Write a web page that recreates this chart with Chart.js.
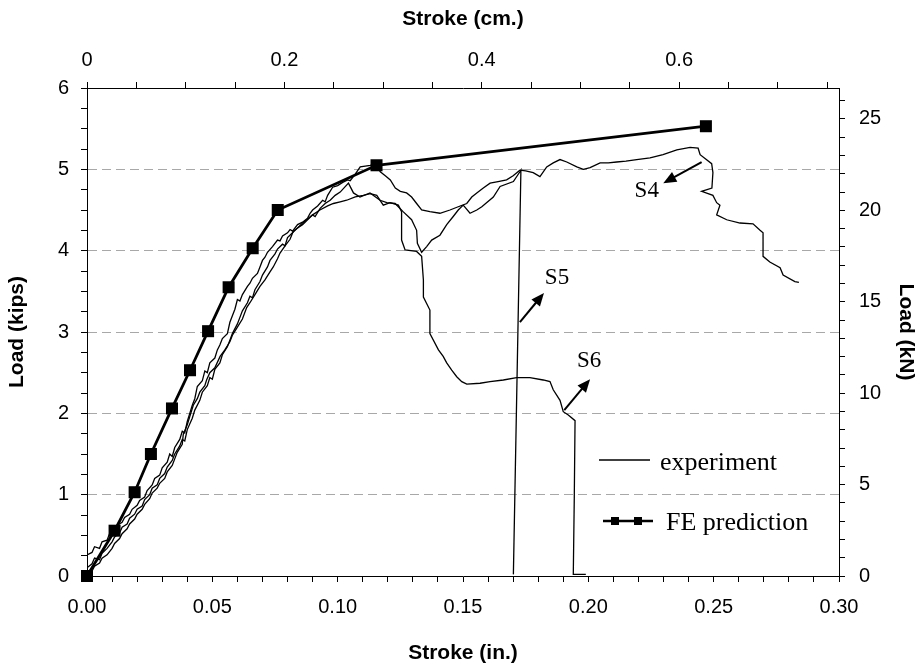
<!DOCTYPE html>
<html>
<head>
<meta charset="utf-8">
<script src="https://cdn.jsdelivr.net/npm/chart.js@4.4.1/dist/chart.umd.min.js"></script>
<style>
  body { margin: 0; background: #fff; }
  canvas { display: block; }
</style>
</head>
<body>
<canvas id="loadChart" width="921" height="667"></canvas>
<script>
// FE prediction: stroke (in.) and load (kips)
const feStroke = [0, 0.011, 0.019, 0.0255, 0.0339, 0.0411, 0.0483, 0.0565, 0.0661, 0.0761, 0.1155, 0.2469];
const feLoad = [0, 0.557, 1.03, 1.50, 2.06, 2.53, 3.01, 3.55, 4.03, 4.50, 5.05, 5.53];

// measured traces, [stroke (in.), load (kips)]
const s4 = [
  [0, 0.26], [0.002, 0.29], [0.003, 0.36], [0.005, 0.34], [0.006, 0.42], [0.008, 0.44], [0.009, 0.52],
  [0.011, 0.55], [0.012, 0.62], [0.014, 0.66], [0.015, 0.72], [0.017, 0.76], [0.018, 0.82], [0.020, 0.87],
  [0.021, 0.93], [0.023, 0.97], [0.024, 1.05], [0.026, 1.12], [0.027, 1.20], [0.029, 1.24], [0.030, 1.33],
  [0.032, 1.40], [0.033, 1.50], [0.034, 1.47], [0.035, 1.58], [0.037, 1.68], [0.038, 1.78], [0.039, 1.76],
  [0.040, 1.90], [0.041, 2.00], [0.042, 2.10], [0.043, 2.18], [0.044, 2.33], [0.046, 2.40], [0.047, 2.52],
  [0.048, 2.50], [0.049, 2.62], [0.051, 2.68], [0.052, 2.78], [0.053, 2.84], [0.054, 2.92], [0.056, 2.98],
  [0.057, 3.12], [0.058, 3.20], [0.059, 3.28], [0.060, 3.40], [0.061, 3.38], [0.062, 3.46], [0.064, 3.56],
  [0.065, 3.60], [0.066, 3.66], [0.068, 3.72], [0.069, 3.80], [0.070, 3.88], [0.071, 3.92], [0.072, 3.98],
  [0.074, 4.05], [0.076, 4.13], [0.077, 4.12], [0.078, 4.18], [0.080, 4.22], [0.081, 4.26], [0.082, 4.24],
  [0.084, 4.32], [0.086, 4.35], [0.088, 4.40], [0.089, 4.46], [0.090, 4.50], [0.092, 4.55], [0.094, 4.62],
  [0.095, 4.60], [0.096, 4.68], [0.098, 4.78], [0.100, 4.80], [0.102, 4.84], [0.104, 4.87], [0.105, 4.86],
  [0.107, 4.94], [0.109, 5.03], [0.111, 5.04], [0.113, 5.05], [0.115, 5.07], [0.117, 4.97], [0.119, 4.92],
  [0.121, 4.87], [0.123, 4.77], [0.125, 4.73], [0.1275, 4.71], [0.1295, 4.66], [0.1315, 4.58], [0.1335, 4.50],
  [0.1368, 4.48], [0.1408, 4.46], [0.1448, 4.50], [0.1481, 4.54], [0.1515, 4.58], [0.1535, 4.66], [0.1555, 4.71],
  [0.1581, 4.77], [0.1608, 4.83], [0.164, 4.85], [0.1674, 4.87], [0.170, 4.92], [0.1727, 4.99], [0.175, 4.98],
  [0.178, 4.96], [0.1807, 4.91], [0.1834, 5.03], [0.186, 5.08], [0.1887, 5.12], [0.1914, 5.09], [0.1954, 5.03],
  [0.198, 5.00], [0.2007, 5.02], [0.2047, 5.08], [0.208, 5.08], [0.2113, 5.09], [0.215, 5.10], [0.2193, 5.12],
  [0.2246, 5.14], [0.2298, 5.18], [0.2353, 5.24], [0.2406, 5.27], [0.2438, 5.26], [0.2446, 5.18], [0.2492, 5.07],
  [0.2497, 4.96], [0.2493, 4.77], [0.2452, 4.73], [0.2497, 4.68], [0.2512, 4.59], [0.2525, 4.56], [0.2512, 4.44],
  [0.2552, 4.38], [0.2605, 4.34], [0.2657, 4.33], [0.2685, 4.25], [0.2697, 4.22], [0.2697, 3.93], [0.2724, 3.86],
  [0.2765, 3.79], [0.2777, 3.70], [0.2824, 3.62], [0.284, 3.61]
];
const s5 = [
  [0, 0.10], [0.002, 0.15], [0.003, 0.22], [0.005, 0.20], [0.006, 0.28], [0.008, 0.34], [0.010, 0.42],
  [0.011, 0.48], [0.013, 0.53], [0.014, 0.60], [0.016, 0.64], [0.017, 0.71], [0.019, 0.76], [0.020, 0.82],
  [0.022, 0.86], [0.023, 0.94], [0.025, 1.00], [0.026, 1.08], [0.028, 1.12], [0.029, 1.20], [0.031, 1.26],
  [0.032, 1.34], [0.034, 1.42], [0.035, 1.50], [0.037, 1.60], [0.038, 1.68], [0.039, 1.66], [0.040, 1.80],
  [0.042, 1.94], [0.043, 2.04], [0.045, 2.16], [0.046, 2.26], [0.048, 2.34], [0.049, 2.44], [0.050, 2.42],
  [0.051, 2.54], [0.053, 2.62], [0.054, 2.72], [0.056, 2.82], [0.057, 2.90], [0.058, 2.98], [0.060, 3.10],
  [0.061, 3.18], [0.062, 3.26], [0.064, 3.36], [0.065, 3.44], [0.066, 3.42], [0.067, 3.52], [0.069, 3.62],
  [0.070, 3.70], [0.072, 3.80], [0.073, 3.88], [0.075, 3.96], [0.076, 4.02], [0.078, 4.08], [0.079, 4.06],
  [0.080, 4.16], [0.082, 4.22], [0.084, 4.28], [0.086, 4.32], [0.088, 4.38], [0.090, 4.44], [0.091, 4.42],
  [0.093, 4.52], [0.095, 4.58], [0.097, 4.62], [0.099, 4.68], [0.101, 4.72], [0.1043, 4.83], [0.1063, 4.71],
  [0.1089, 4.66], [0.1129, 4.71], [0.1169, 4.62], [0.1196, 4.59], [0.1229, 4.58], [0.1261, 4.48], [0.1295, 4.38],
  [0.1315, 4.25], [0.1318, 4.09], [0.1335, 3.98], [0.1355, 4.05], [0.1375, 4.13], [0.1408, 4.19], [0.1435, 4.32],
  [0.1461, 4.42], [0.1481, 4.50], [0.1501, 4.56], [0.1528, 4.46], [0.1555, 4.50], [0.1575, 4.54], [0.1621, 4.66],
  [0.1648, 4.79], [0.1701, 4.85], [0.1727, 4.97], [0.1731, 4.99], [0.1701, 0.02]
];
const s6 = [
  [0, 0.03], [0.002, 0.06], [0.003, 0.12], [0.005, 0.16], [0.006, 0.22], [0.008, 0.26], [0.010, 0.34],
  [0.011, 0.40], [0.013, 0.46], [0.014, 0.52], [0.016, 0.58], [0.017, 0.64], [0.019, 0.70], [0.020, 0.76],
  [0.022, 0.82], [0.023, 0.88], [0.025, 0.95], [0.026, 1.02], [0.028, 1.08], [0.029, 1.14], [0.031, 1.20],
  [0.032, 1.28], [0.034, 1.36], [0.035, 1.44], [0.036, 1.52], [0.038, 1.62], [0.0384, 1.74], [0.040, 1.86],
  [0.041, 1.96], [0.0424, 2.10], [0.044, 2.18], [0.045, 2.26], [0.047, 2.34], [0.0477, 2.41], [0.049, 2.50],
  [0.051, 2.56], [0.0531, 2.70], [0.055, 2.78], [0.057, 2.88], [0.058, 2.96], [0.060, 3.06], [0.062, 3.16],
  [0.0637, 3.30], [0.065, 3.36], [0.067, 3.46], [0.069, 3.56], [0.071, 3.64], [0.073, 3.74], [0.0743, 3.80],
  [0.076, 3.90], [0.077, 3.97], [0.079, 4.06], [0.081, 4.14], [0.0823, 4.24], [0.084, 4.28], [0.086, 4.34],
  [0.0876, 4.38], [0.090, 4.44], [0.0929, 4.50], [0.096, 4.55], [0.0983, 4.58], [0.101, 4.60], [0.1036, 4.62],
  [0.107, 4.66], [0.1102, 4.68], [0.113, 4.70], [0.1156, 4.68], [0.1182, 4.56], [0.1209, 4.59], [0.1242, 4.56],
  [0.1255, 4.48], [0.1255, 4.13], [0.1269, 4.01], [0.1315, 3.99], [0.1335, 3.93], [0.1342, 3.64], [0.1342, 3.43],
  [0.1368, 3.27], [0.1368, 2.98], [0.1402, 2.78], [0.1421, 2.70], [0.1435, 2.62], [0.1455, 2.53], [0.1475, 2.45],
  [0.1495, 2.39], [0.1515, 2.36], [0.1568, 2.37], [0.1608, 2.39], [0.1661, 2.41], [0.1714, 2.44], [0.1767, 2.44],
  [0.1820, 2.41], [0.1847, 2.39], [0.1860, 2.29], [0.1887, 2.16], [0.1900, 2.02], [0.1920, 1.98], [0.1947, 1.91],
  [0.1944, 0.98], [0.1940, 0.02], [0.1990, 0.02]
];

const STROKE_MAX = 0.30;   // in.
const LOAD_MAX = 6;        // kips
const CM_PER_IN = 2.54;
const KN_PER_KIP = 4.448;

const sans = "'Liberation Sans', Arial, Helvetica, sans-serif";
const serif = "'Liberation Serif', 'Times New Roman', serif";

// curve tags with their arrows (stroke in., load kips)
const tags = [
  { text: 'S4', at: [0.2233, 4.73], tail: [0.2452, 5.09], head: [0.2299, 4.83] },
  { text: 'S5', at: [0.1875, 3.66], tail: [0.1727, 3.12], head: [0.1823, 3.48] },
  { text: 'S6', at: [0.2003, 2.64], tail: [0.1904, 2.04], head: [0.2007, 2.42] }
];

const onStep = (v, step) => Math.abs(v / step - Math.round(v / step)) < 1e-6;
const toXY = pts => pts.map(([x, y]) => ({ x, y }));

function arrow(ctx, x1, y1, x2, y2) {
  const a = Math.atan2(y2 - y1, x2 - x1);
  const len = 13, half = 5.5;
  const c = Math.cos(a), s = Math.sin(a);
  ctx.lineWidth = 2;
  ctx.beginPath();
  ctx.moveTo(x1, y1);
  ctx.lineTo(x2 - len * 0.8 * c, y2 - len * 0.8 * s);
  ctx.stroke();
  ctx.beginPath();
  ctx.moveTo(x2, y2);
  ctx.lineTo(x2 - len * c + half * s, y2 - len * s - half * c);
  ctx.lineTo(x2 - len * c - half * s, y2 - len * s + half * c);
  ctx.closePath();
  ctx.fill();
}

const overlay = {
  id: 'overlay',
  afterDraw(chart) {
    const { ctx, chartArea: ca, scales: { x, y } } = chart;
    ctx.save();
    ctx.fillStyle = '#000';
    ctx.strokeStyle = '#000';

    ctx.font = '23px ' + serif;
    ctx.textAlign = 'center';
    ctx.textBaseline = 'middle';
    tags.forEach(t => {
      ctx.fillText(t.text, x.getPixelForValue(t.at[0]), y.getPixelForValue(t.at[1]));
      arrow(ctx, x.getPixelForValue(t.tail[0]), y.getPixelForValue(t.tail[1]),
        x.getPixelForValue(t.head[0]), y.getPixelForValue(t.head[1]));
    });

    // legend box inside the plot, lower right
    const lx = ca.right - 240;
    const y1 = ca.bottom - 116, y2 = ca.bottom - 55;
    ctx.font = '26px ' + serif;
    ctx.textAlign = 'left';
    ctx.lineWidth = 1.3;
    ctx.beginPath();
    ctx.moveTo(lx, y1); ctx.lineTo(lx + 51, y1);
    ctx.stroke();
    ctx.fillText('experiment', lx + 61, y1 + 3);

    ctx.lineWidth = 2.6;
    ctx.beginPath();
    ctx.moveTo(lx + 4, y2); ctx.lineTo(lx + 54, y2);
    ctx.stroke();
    [lx + 16, lx + 39].forEach(cx => ctx.fillRect(cx - 4, y2 - 4, 8, 8));
    ctx.fillText('FE prediction', lx + 67, y2 + 2);
    ctx.restore();
  }
};

const traceStyle = {
  borderColor: '#000', borderWidth: 1.3, pointRadius: 0, tension: 0, fill: false, order: 1
};

new Chart(document.getElementById('loadChart'), {
  type: 'line',
  data: {
    datasets: [
      {
        label: 'FE prediction',
        data: feStroke.map((v, i) => ({ x: v, y: feLoad[i] })),
        borderColor: '#000', borderWidth: 2.8, tension: 0,
        pointStyle: 'rect', pointRadius: 8.5, pointBackgroundColor: '#000', pointBorderWidth: 0,
        clip: false, order: 0
      },
      { label: 'S4', data: toXY(s4), ...traceStyle },
      { label: 'S5', data: toXY(s5), ...traceStyle },
      { label: 'S6', data: toXY(s6), ...traceStyle }
    ]
  },
  options: {
    responsive: false,
    animation: false,
    events: [],
    layout: { padding: 0 },
    plugins: { legend: { display: false }, tooltip: { enabled: false } },
    scales: {
      x: {
        type: 'linear', position: 'bottom', min: 0, max: STROKE_MAX, bounds: 'data',
        afterFit: s => { s.height = 91; },
        grid: { drawOnChartArea: false, tickLength: 6, tickColor: '#000' },
        border: { color: '#000', width: 1 },
        ticks: {
          stepSize: 0.01, autoSkip: false, maxRotation: 0, padding: 13, color: '#000',
          font: { family: sans, size: 20 },
          callback: v => onStep(v, 0.05) ? v.toFixed(2) : ''
        },
        title: { display: true, text: 'Stroke (in.)', color: '#000', font: { family: sans, size: 21, weight: 'bold' }, padding: { top: 0, bottom: 1 } }
      },
      x2: {
        type: 'linear', position: 'top', min: 0, max: STROKE_MAX * CM_PER_IN, bounds: 'data',
        afterFit: s => { s.height = 88; },
        grid: { drawOnChartArea: false, tickLength: 6, tickColor: '#000' },
        border: { color: '#000', width: 1 },
        ticks: {
          stepSize: 0.05, autoSkip: false, maxRotation: 0, padding: 10, includeBounds: false, color: '#000',
          font: { family: sans, size: 20 },
          callback: v => onStep(v, 0.2) ? (v === 0 ? '0' : v.toFixed(1)) : ''
        },
        title: { display: true, text: 'Stroke (cm.)', color: '#000', font: { family: sans, size: 21, weight: 'bold' }, padding: { top: 7, bottom: 0 } }
      },
      y: {
        type: 'linear', position: 'left', min: 0, max: LOAD_MAX, bounds: 'data',
        afterFit: s => { s.width = 87; },
        grid: {
          tickLength: 6, tickColor: '#000', lineWidth: 1,
          color: c => (onStep(c.tick.value, 1) && c.tick.value > 0 && c.tick.value < LOAD_MAX) ? '#a8a8a8' : 'rgba(0,0,0,0)'
        },
        border: { color: '#000', width: 1, dash: [9, 5] },
        ticks: {
          stepSize: 0.25, autoSkip: false, padding: 12, color: '#000',
          font: { family: sans, size: 20 },
          callback: v => onStep(v, 1) ? String(Math.round(v)) : ''
        },
        title: { display: true, text: 'Load (kips)', color: '#000', font: { family: sans, size: 21, weight: 'bold' }, padding: { top: 5, bottom: 0 } }
      },
      y2: {
        type: 'linear', position: 'right', min: 0, max: LOAD_MAX * KN_PER_KIP, bounds: 'data',
        afterFit: s => { s.width = 82; },
        grid: { drawOnChartArea: false, tickLength: 6, tickColor: '#000' },
        border: { color: '#000', width: 1 },
        ticks: {
          stepSize: 1, autoSkip: false, padding: 14, includeBounds: false, color: '#000',
          font: { family: sans, size: 20 },
          callback: v => onStep(v, 5) ? String(Math.round(v)) : ''
        },
        title: { display: true, text: 'Load (kN)', color: '#000', font: { family: sans, size: 21, weight: 'bold' }, padding: { top: 3, bottom: 0 } }
      }
    }
  },
  plugins: [overlay]
});
</script>
</body>
</html>
